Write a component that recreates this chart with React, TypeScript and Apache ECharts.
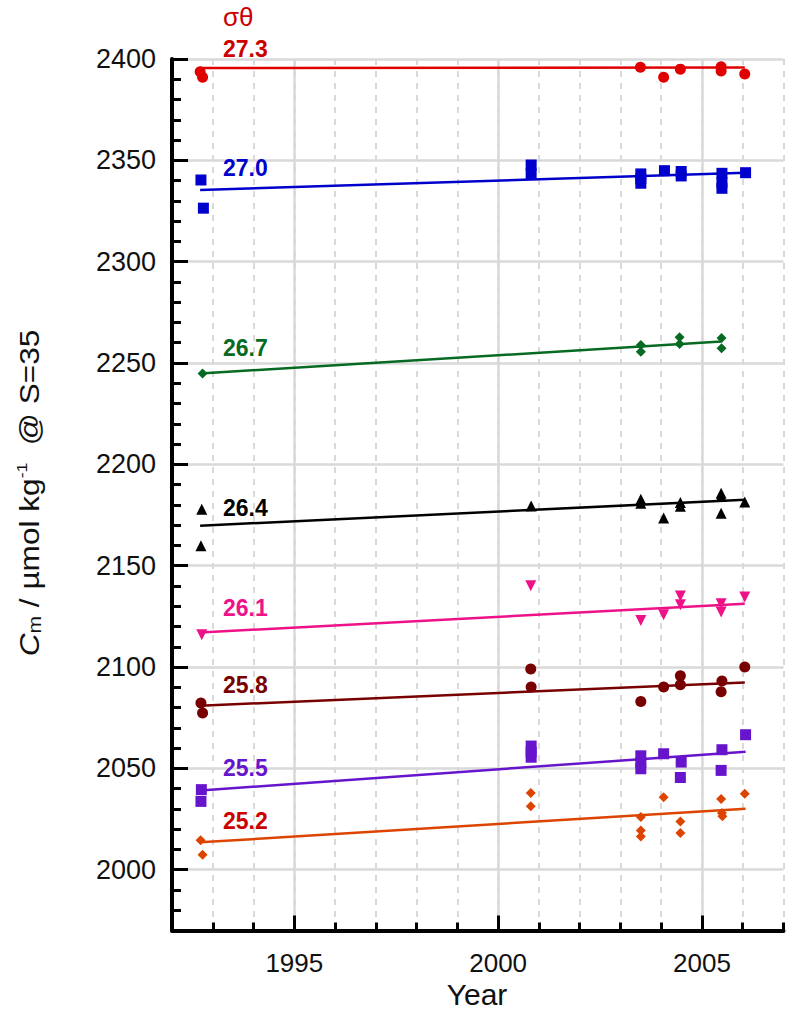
import React, { useEffect, useRef } from "react";
import * as echarts from "echarts";

// ---- data ----
const xTickLabels = [1995, 2000, 2005];
const yTickLabels = [2000, 2050, 2100, 2150, 2200, 2250, 2300, 2350, 2400];
const densities = ["27.3", "27.0", "26.7", "26.4", "26.1", "25.8", "25.5", "25.2"];

const pts273 = [[1992.69, 2393.7], [1992.75, 2391], [2003.49, 2395.9], [2004.06, 2391], [2004.47, 2395], [2005.47, 2396.2], [2005.47, 2394.1], [2006.05, 2392.6]];
const pts270 = [[1992.71, 2340.3], [1992.77, 2326.4], [2000.81, 2347.7], [2000.81, 2343.3], [2003.5, 2343.3], [2003.5, 2341], [2003.5, 2338.7], [2004.08, 2344.9], [2004.49, 2344.5], [2004.49, 2342.3], [2005.49, 2343.6], [2005.49, 2339], [2005.49, 2336.2], [2006.07, 2343.9]];
const pts267 = [[1992.75, 2244.8], [2003.5, 2258.9], [2003.5, 2255.6], [2004.45, 2262.7], [2004.45, 2259.4], [2005.48, 2262.4], [2005.48, 2257.3]];
const pts264 = [[1992.73, 2177.9], [1992.71, 2159.8], [2000.81, 2179.5], [2003.5, 2182.8], [2003.5, 2180.8], [2004.06, 2173.5], [2004.47, 2181.2], [2004.47, 2179.3], [2005.47, 2185.8], [2005.47, 2184.1], [2005.47, 2175.9], [2006.05, 2181.4]];
const pts261 = [[1992.73, 2115.9], [2000.8, 2140.1], [2003.5, 2123], [2004.06, 2125.8], [2004.47, 2135.1], [2004.47, 2130.7], [2005.47, 2131.2], [2005.47, 2127.1], [2006.05, 2134.5]];
const pts258 = [[1992.71, 2082.2], [1992.75, 2077.3], [2000.8, 2099], [2000.81, 2090.1], [2003.5, 2083], [2004.06, 2090.1], [2004.47, 2095.7], [2004.47, 2091.2], [2005.49, 2093.1], [2005.47, 2087.8], [2006.05, 2100]];
const pts255 = [[1992.72, 2039.5], [1992.71, 2033.7], [2000.81, 2061], [2000.81, 2058], [2000.81, 2055.5], [2003.5, 2056.2], [2003.5, 2052.8], [2003.5, 2049.8], [2004.06, 2057.2], [2004.49, 2053.1], [2004.47, 2045.5], [2005.49, 2059.2], [2005.47, 2049], [2006.07, 2066.6]];
const pts252 = [[1992.7, 2014.5], [1992.75, 2007.4], [2000.8, 2037.8], [2000.8, 2031.3], [2003.5, 2026], [2003.5, 2019.4], [2003.5, 2016.4], [2004.06, 2035.7], [2004.47, 2023.8], [2004.47, 2018.1], [2005.47, 2034.9], [2005.49, 2028], [2005.5, 2026.4], [2006.05, 2037.5]];

const fit273 = [[1992.69, 2395.5], [2006.05, 2395.8]];
const fit270 = [[1992.69, 2335.4], [2006.07, 2343.9]];
const fit267 = [[1992.69, 2244.8], [2005.47, 2260.6]];
const fit264 = [[1992.69, 2169.7], [2006.05, 2182.5]];
const fit261 = [[1992.69, 2117.0], [2006.05, 2131.2]];
const fit258 = [[1992.69, 2080.9], [2006.05, 2092.4]];
const fit255 = [[1992.69, 2039.1], [2006.07, 2058.2]];
const fit252 = [[1992.69, 2013.5], [2006.07, 2030.1]];

// ---- styles ----
const allPts = [pts273, pts270, pts267, pts264, pts261, pts258, pts255, pts252];
const allFits = [fit273, fit270, fit267, fit264, fit261, fit258, fit255, fit252];
const pointColors = ["#e00000", "#0000cc", "#066a22", "#000000", "#ee1188", "#780000", "#6615cc", "#dd4400"];
const lineColors = ["#e00000", "#0000cc", "#066a22", "#000000", "#ee1188", "#780000", "#6615cc", "#dd4400"];
const labelColors = ["#cc0000", "#0000cc", "#066a22", "#000000", "#ee1188", "#780000", "#6615cc", "#cc0000"];
const symbols = ["circle", "rect", "diamond", "triangle", "triangle", "circle", "rect", "diamond"];
const symbolRot = [0, 0, 0, 0, 180, 0, 0, 0];
const symbolSizes = [11, 11, 10, 11, 11, 11, 11, 10];
const labelY = [49, 168, 348, 508, 608, 685, 768, 821];

const FONT = "'Liberation Sans', Arial, sans-serif";
const plain = (v: number) => String(v);
const GRID_GRAY = "#d9d9d9";

export default function App() {
  const ref = useRef<HTMLDivElement>(null);
  useEffect(() => {
    if (!ref.current) return;
    const chart = echarts.init(ref.current, undefined, { renderer: "svg" });
    const grid = { left: 172, top: 59, width: 611.5, height: 871.5, containLabel: false, outerBoundsMode: "none" };
    const series: any[] = [];
    allFits.forEach((f, i) => {
      series.push({
        type: "line",
        data: f,
        showSymbol: false,
        symbol: "none",
        lineStyle: { color: lineColors[i], width: 2.5 },
        z: 10,
        silent: true,
      });
    });
    allPts.forEach((p, i) => {
      series.push({
        type: "scatter",
        data: p,
        symbol: symbols[i],
        symbolRotate: symbolRot[i],
        symbolSize: symbolSizes[i],
        itemStyle: { color: pointColors[i], opacity: 1 },
        z: 11,
      });
    });
    const graphic: any[] = densities.map((d, i) => ({
      type: "text",
      x: 223,
      y: labelY[i],
      z: 20,
      style: {
        text: d,
        fill: labelColors[i],
        fontSize: 23,
        fontWeight: "bold",
        fontFamily: FONT,
        align: "left",
        verticalAlign: "middle",
      },
    }));
    graphic.push({
      type: "text",
      x: 223,
      y: 17,
      style: {
        text: "σθ",
        fill: "#cc0000",
        fontSize: 26,
        fontFamily: FONT,
        align: "left",
        verticalAlign: "middle",
      },
    });
    graphic.push({
      type: "text",
      x: 477,
      y: 994,
      style: {
        text: "Year",
        fill: "#111",
        fontSize: 30,
        fontFamily: FONT,
        align: "center",
        verticalAlign: "middle",
      },
    });
    graphic.push({
      type: "text",
      x: 29,
      y: 493,
      rotation: Math.PI / 2,
      scaleX: 1.17,
      style: {
        text: "{i|C}{sub|m}{n| / µmol kg}{sup|-1}{n|  @ S=35}",
        align: "center",
        verticalAlign: "middle",
        fill: "#111",
        fontFamily: FONT,
        rich: {
          n: { fontSize: 27, lineHeight: 30, fontFamily: FONT, fill: "#111" },
          i: { fontSize: 27, lineHeight: 30, fontFamily: FONT, fontStyle: "italic", fill: "#111" },
          sub: { fontSize: 18, lineHeight: 8, verticalAlign: "bottom", fontFamily: FONT, fill: "#111" },
          sup: { fontSize: 15, lineHeight: 8, verticalAlign: "top", fontFamily: FONT, fill: "#111" },
        },
      },
    });

    const xBase = { type: "value", min: 1992, max: 2007, position: "bottom", offset: 0 };
    const yBase = { type: "value", min: 1970, max: 2400, position: "left", offset: 0 };
    const hidden = { axisLine: { show: false, onZero: false }, axisLabel: { show: false } };

    chart.setOption({
      animation: false,
      backgroundColor: "#ffffff",
      grid,
      xAxis: [
        // dashed yearly grid lines
        {
          ...xBase, ...hidden, interval: 1, z: 0,
          axisTick: { show: false },
          splitLine: { show: true, lineStyle: { color: GRID_GRAY, width: 2, type: [6, 6] } },
        },
        // solid major grid lines
        {
          ...xBase, ...hidden, z: 1,
          axisTick: { show: false, customValues: xTickLabels },
          splitLine: { show: true, lineStyle: { color: GRID_GRAY, width: 2.5, type: "solid" } },
        },
        // visible axis with minor ticks + labels
        {
          ...xBase, interval: 1, z: 5,
          axisLine: { show: true, onZero: false, lineStyle: { color: "#000", width: 4 } },
          axisTick: { show: true, inside: true, length: 8, lineStyle: { color: "#000", width: 3 } },
          axisLabel: {
            customValues: xTickLabels,
            formatter: plain,
            fontSize: 26,
            lineHeight: 26,
            color: "#111",
            fontFamily: FONT,
            margin: 19,
          },
          splitLine: { show: false },
        },
        // major ticks
        {
          ...xBase, ...hidden, z: 5,
          axisTick: { show: true, inside: true, length: 15, customValues: xTickLabels, lineStyle: { color: "#000", width: 3 } },
          splitLine: { show: false },
        },
      ],
      yAxis: [
        {
          ...yBase, ...hidden, z: 1,
          axisTick: { show: false, customValues: yTickLabels },
          splitLine: { show: true, lineStyle: { color: GRID_GRAY, width: 2.5 } },
        },
        {
          ...yBase, interval: 10, z: 5,
          axisLine: { show: true, onZero: false, lineStyle: { color: "#000", width: 4 } },
          axisTick: { show: true, inside: true, length: 9, lineStyle: { color: "#000", width: 3 } },
          axisLabel: {
            customValues: yTickLabels,
            formatter: plain,
            fontSize: 27,
            color: "#111",
            fontFamily: FONT,
            margin: 16,
          },
          splitLine: { show: false },
        },
        {
          ...yBase, ...hidden, z: 5,
          axisTick: { show: true, inside: true, length: 16, customValues: yTickLabels, lineStyle: { color: "#000", width: 3 } },
          splitLine: { show: false },
        },
      ],
      series,
      graphic,
    });
    return () => chart.dispose();
  }, []);
  return (
    <div
      ref={ref}
      style={{ position: "absolute", left: 0, top: 0, width: 790, height: 1010, background: "#fff" }}
    />
  );
}
